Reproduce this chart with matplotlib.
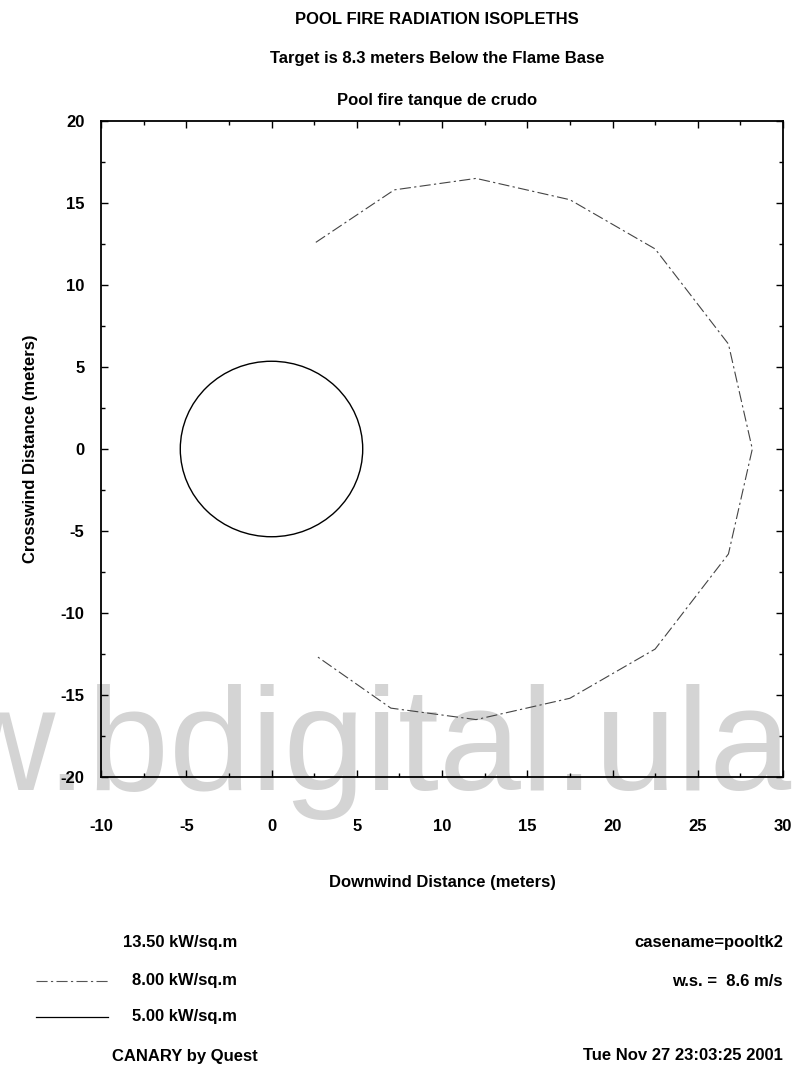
import matplotlib
matplotlib.use("Agg")
import matplotlib.pyplot as plt
from matplotlib.patches import Circle
from matplotlib.lines import Line2D
from matplotlib.ticker import MultipleLocator

plt.rcParams['font.family'] = ['Liberation Sans', 'DejaVu Sans']
plt.rcParams['axes.unicode_minus'] = False

# ---- data ----
title_lines = ["POOL FIRE RADIATION ISOPLETHS",
               "Target is 8.3 meters Below the Flame Base",
               "Pool fire tanque de crudo"]
x_limits = [-10, 30]
y_limits = [-20, 20]
x_ticks = [-10, -5, 0, 5, 10, 15, 20, 25, 30]
y_ticks = [-20, -15, -10, -5, 0, 5, 10, 15, 20]

# 5.00 kW/sq.m isopleth (circle)
circle_center = (0.0, 0.0)
circle_radius = 5.35

# 8.00 kW/sq.m isopleth (open polygon)
iso8_x = [2.6, 7.2, 12.0, 17.5, 22.5, 26.8, 28.2, 26.8, 22.5, 17.5, 12.0, 7.0, 2.6]
iso8_y = [12.6, 15.8, 16.5, 15.2, 12.2, 6.4, 0.0, -6.4, -12.2, -15.2, -16.5, -15.8, -12.6]

legend_labels = ["13.50 kW/sq.m", "8.00 kW/sq.m", "5.00 kW/sq.m"]
case_text = "casename=pooltk2"
ws_text = "w.s. =  8.6 m/s"
footer_left = "CANARY by Quest"
footer_right = "Tue Nov 27 23:03:25 2001"
watermark = "w.bdigital.ula"

W, H = 795, 1069
FS = 12
fig = plt.figure(figsize=(W / 100, H / 100), dpi=100)

def fx(px):
    return px / W

def fy(py):
    return 1 - py / H

# watermark behind everything
fig.text(fx(-52), fy(790), watermark, fontsize=106, color='#d4d4d4',
         ha='left', va='baseline', zorder=-5)

ax = fig.add_axes([fx(101), fy(777), fx(783) - fx(101), fy(121) - fy(777)])
ax.set_facecolor('none')
ax.set_zorder(1)

ax.plot(iso8_x, iso8_y, color='#444444', lw=0.8, dashes=(10, 3, 2, 3))
ax.add_patch(Circle(circle_center, circle_radius, fill=False, ec='black', lw=1.0))

ax.set_xlim(*x_limits)
ax.set_ylim(*y_limits)
ax.set_xticks(x_ticks)
ax.set_yticks(y_ticks)
ax.xaxis.set_minor_locator(MultipleLocator(2.5))
ax.yaxis.set_minor_locator(MultipleLocator(2.5))
ax.tick_params(which='both', direction='in', top=True, right=True, width=1.0)
ax.tick_params(which='major', length=5)
ax.tick_params(which='minor', length=3)
ax.tick_params(axis='x', which='major', pad=30)
ax.tick_params(axis='y', which='major', pad=12)
for lab in ax.get_xticklabels() + ax.get_yticklabels():
    lab.set_fontweight('bold')
    lab.set_fontsize(FS)
for s in ax.spines.values():
    s.set_linewidth(1.3)

ax.set_xlabel("Downwind Distance (meters)", fontsize=FS, fontweight='bold', labelpad=30)
ax.set_ylabel("Crosswind Distance (meters)", fontsize=FS, fontweight='bold', labelpad=16)

# titles
for t, py in zip(title_lines, [19, 59, 100]):
    fig.text(fx(437), fy(py), t, fontsize=FS, fontweight='bold', ha='center', va='center')

# legend block
fig.text(fx(123), fy(943), legend_labels[0], fontsize=FS, fontweight='bold', ha='left', va='center')
fig.text(fx(132), fy(981), legend_labels[1], fontsize=FS, fontweight='bold', ha='left', va='center')
fig.text(fx(132), fy(1017), legend_labels[2], fontsize=FS, fontweight='bold', ha='left', va='center')
fig.add_artist(Line2D([fx(36), fx(108)], [fy(981), fy(981)], color='#555555', lw=0.8,
                      dashes=(10, 3, 2, 3)))
fig.add_artist(Line2D([fx(36), fx(108)], [fy(1017), fy(1017)], color='black', lw=0.9))

fig.text(fx(783), fy(943), case_text, fontsize=FS, fontweight='bold', ha='right', va='center')
fig.text(fx(783), fy(981), ws_text, fontsize=FS, fontweight='bold', ha='right', va='center')
fig.text(fx(185), fy(1056), footer_left, fontsize=FS, fontweight='bold', ha='center', va='center')
fig.text(fx(783), fy(1056), footer_right, fontsize=FS, fontweight='bold', ha='right', va='center')

fig.savefig("out.png", dpi=100)
